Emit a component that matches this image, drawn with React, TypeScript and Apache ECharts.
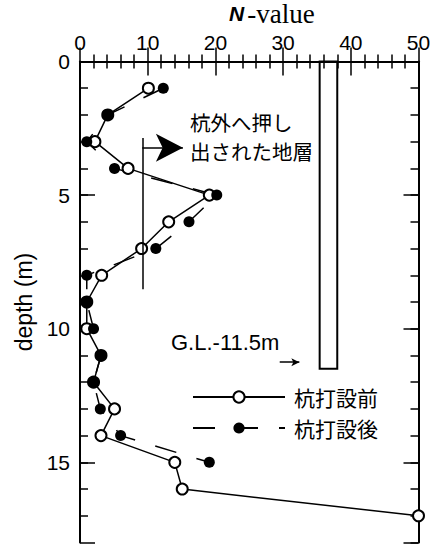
import React, { useEffect, useRef } from "react";
import * as echarts from "echarts";

// ---- data ----
const depthBefore = [1, 2, 3, 4, 5, 6, 7, 8, 9, 10, 11, 12, 13, 14, 15, 16, 17];
const nBefore = [10.1, 4.1, 2.2, 7.1, 19.1, 13.1, 9.1, 3.2, 1.0, 1.0, 3.1, 2.0, 5.1, 3.1, 14.0, 15.1, 50];
const depthAfter = [1, 2, 3, 4, 5, 6, 7, 8, 9, 10, 11, 12, 13, 14, 15];
const nAfter = [12.3, 4.1, 1.0, 5.1, 20.2, 16.1, 11.2, 1.0, 1.0, 2.0, 3.1, 2.0, 3.0, 6.0, 19.1];
const seriesNames = ["杭打設前", "杭打設後"];
// pile (N range, depth range)
const pileN = [35.4, 38.0];
const pileDepth = [0, 11.5];
// bracket for pushed-out layer
const bracketN = 9.2;
const bracketDepth = [2.86, 8.52];
const arrowDepth = 3.23;
const arrowTipN = 15.2;
// G.L. arrow
const glArrowN = [29.5, 32.4];
const glArrowDepth = 11.25;
// axes
const xRange = [0, 50];
const yRange = [0, 18];
// annotation texts
const noteLines = ["杭外へ押し", "出された地層"];
const glText = "G.L.-11.5m";

const FONT = "'Liberation Sans', Arial, sans-serif";
const SERIF = "'Liberation Serif', 'Times New Roman', serif";
const CJK = "'Noto Sans CJK JP', sans-serif";

export default function App() {
  const ref = useRef<HTMLDivElement>(null);
  useEffect(() => {
    if (!ref.current) return;
    const chart = echarts.init(ref.current, null, { renderer: "svg" });
    const black = "#000";
    const baseX = {
      type: "value",
      min: xRange[0],
      max: xRange[1],
      interval: 10,
      splitLine: { show: false },
      axisLine: { show: true, lineStyle: { color: black, width: 2 } },
      axisTick: { show: true, inside: true, length: 14, lineStyle: { color: black, width: 1.5 } },
      minorTick: { show: true, splitNumber: 5, length: 7, lineStyle: { color: black, width: 1.5 } },
    };
    const yMinor = {
      type: "value",
      inverse: true,
      min: yRange[0],
      max: yRange[1],
      interval: 1,
      splitLine: { show: false },
      axisLine: { show: true, lineStyle: { color: black, width: 2 } },
      axisTick: { show: true, inside: true, length: 8, lineStyle: { color: black, width: 1.5 } },
    };
    const yMajor = {
      type: "value",
      inverse: true,
      min: yRange[0],
      max: yRange[1],
      interval: 5,
      splitLine: { show: false },
      axisLine: { show: false },
      axisLabel: { show: false },
      axisTick: { show: true, inside: true, length: 15, lineStyle: { color: black, width: 1.5 } },
    };
    const option: any = {
      animation: false,
      backgroundColor: "#fff",
      title: {
        left: 229,
        top: 0,
        padding: 0,
        text: "{n|N}{v|-value}",
        textStyle: {
          rich: {
            n: { fontFamily: FONT, fontWeight: "bold", fontStyle: "italic", fontSize: 21, color: black },
            v: { fontFamily: SERIF, fontWeight: "normal", fontSize: 27, color: black, padding: [0, 0, 0, 3] },
          },
        },
      },
      grid: { left: 80, right: 29.5, top: 61.5, bottom: 6.5, containLabel: false },
      xAxis: [
        {
          ...baseX,
          position: "top",
          axisLabel: { show: true, margin: 9, fontSize: 21, fontFamily: FONT, color: black },
        },
        {
          ...baseX,
          position: "bottom",
          axisLabel: { show: false },
        },
      ],
      yAxis: [
        {
          ...yMinor,
          position: "left",
          name: "depth (m)",
          nameLocation: "middle",
          nameRotate: 90,
          nameGap: 44,
          nameTextStyle: { fontSize: 23, fontFamily: FONT, color: black },
          axisLabel: {
            show: true,
            margin: 10,
            fontSize: 21,
            fontFamily: FONT,
            color: black,
            formatter: (v: number) => (v % 5 === 0 ? String(v) : ""),
            showMaxLabel: false,
          },
        },
        { ...yMajor, position: "left" },
        { ...yMinor, position: "right", axisLabel: { show: false } },
        { ...yMajor, position: "right" },
      ],
      legend: {
        data: seriesNames,
        orient: "vertical",
        left: 192,
        top: 386,
        padding: 0,
        itemWidth: 92,
        itemHeight: 14,
        itemGap: 9,
        selectedMode: false,
        textStyle: { fontSize: 21, fontFamily: CJK, color: black, lineHeight: 22, padding: [0, 0, 0, 4] },
      },
      series: [
        {
          name: seriesNames[0],
          type: "line",
          xAxisIndex: 0,
          yAxisIndex: 0,
          data: depthBefore.map((d, i) => [nBefore[i], d]),
          symbol: "emptyCircle",
          symbolSize: 11,
          clip: false,
          itemStyle: { color: black, borderColor: black, borderWidth: 1.4 },
          lineStyle: { color: black, width: 1.5, type: "solid" },
          markArea: {
            silent: true,
            itemStyle: { color: "rgba(0,0,0,0)", borderColor: black, borderWidth: 2 },
            label: { show: false },
            data: [[{ coord: [pileN[0], pileDepth[0]] }, { coord: [pileN[1], pileDepth[1]] }]],
          },
          markLine: {
            silent: true,
            animation: false,
            label: { show: false },
            lineStyle: { color: black, width: 1.5, type: "solid" },
            data: [
              [
                { coord: [bracketN, bracketDepth[0]], symbol: "none" },
                { coord: [bracketN, bracketDepth[1]], symbol: "none" },
              ],
              [
                { coord: [bracketN, arrowDepth], symbol: "none" },
                { coord: [arrowTipN, arrowDepth], symbol: "arrow", symbolSize: [21, 27] },
              ],
              [
                { coord: [glArrowN[0], glArrowDepth], symbol: "none" },
                { coord: [glArrowN[1], glArrowDepth], symbol: "arrow", symbolSize: [6, 8] },
              ],
            ],
          },
        },
        {
          name: seriesNames[1],
          type: "line",
          xAxisIndex: 0,
          yAxisIndex: 0,
          data: depthAfter.map((d, i) => [nAfter[i], d]),
          symbol: "circle",
          symbolSize: 11,
          clip: false,
          itemStyle: { color: black },
          lineStyle: { color: black, width: 1.5, type: [22, 21] },
        },
      ],
      graphic: [
        {
          type: "text",
          x: 190,
          y: 121.5,
          style: { text: noteLines[0], fontSize: 20.5, lineHeight: 22, fontFamily: CJK, fill: black, verticalAlign: "middle" },
        },
        {
          type: "text",
          x: 190,
          y: 150.5,
          style: { text: noteLines[1], fontSize: 20.5, lineHeight: 22, fontFamily: CJK, fill: black, verticalAlign: "middle" },
        },
        {
          type: "text",
          x: 171,
          y: 342,
          style: { text: glText, fontSize: 22, fontFamily: FONT, fill: black, verticalAlign: "middle" },
        },
      ],
    };
    chart.setOption(option);
    return () => chart.dispose();
  }, []);
  return (
    <div
      ref={ref}
      style={{ position: "absolute", left: 0, top: 0, width: 448, height: 549, background: "#fff" }}
    />
  );
}
